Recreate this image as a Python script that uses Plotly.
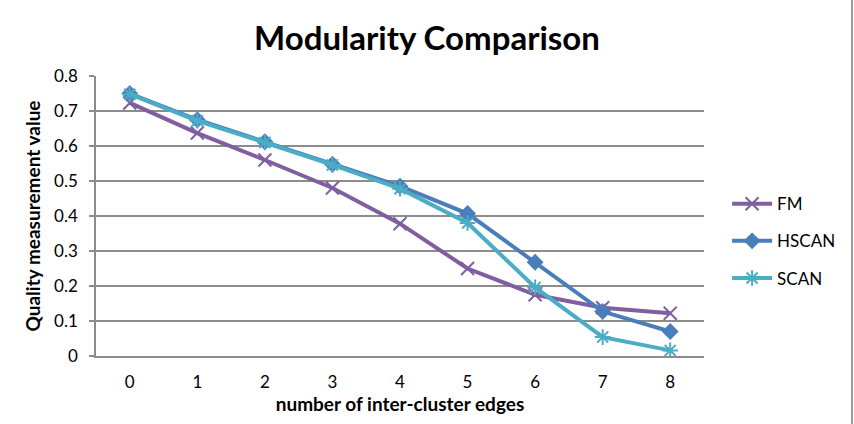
import plotly.graph_objects as go

categories = [0, 1, 2, 3, 4, 5, 6, 7, 8]
fm = [0.723, 0.637, 0.560, 0.480, 0.378, 0.250, 0.175, 0.138, 0.122]
hscan = [0.750, 0.675, 0.612, 0.548, 0.485, 0.407, 0.268, 0.127, 0.070]
scan = [0.748, 0.672, 0.610, 0.546, 0.478, 0.380, 0.196, 0.054, 0.016]
y_ticks = [0, 0.1, 0.2, 0.3, 0.4, 0.5, 0.6, 0.7, 0.8]
y_tick_labels = ["0", "0.1", "0.2", "0.3", "0.4", "0.5", "0.6", "0.7", "0.8"]

FONT = "Lato, Carlito, Calibri, sans-serif"

fig = go.Figure()
series = [
    ("FM", fm, "#7F5FA0", dict(symbol="x-thin", size=13, line=dict(width=2, color="#7F5FA0"))),
    ("HSCAN", hscan, "#4A7EBB", dict(symbol="diamond", size=13, color="#4A7EBB")),
    ("SCAN", scan, "#4BACC6", dict(symbol="asterisk", size=13, line=dict(width=2, color="#4BACC6"))),
]
for name, vals, color, marker in series:
    fig.add_trace(go.Scatter(
        x=categories, y=vals, name=name, mode="lines+markers",
        line=dict(color=color, width=4), marker=marker, legendgroup=name,
    ))

grid = "#8C8C8C"
fig.update_layout(
    width=854, height=424,
    margin=dict(l=96, r=150, t=76, b=68),
    paper_bgcolor="white", plot_bgcolor="white",
    font=dict(family=FONT, size=17, color="black"),
    title=dict(text="<b>Modularity Comparison</b>", x=0.5, xanchor="center",
               y=0.91, yanchor="middle", font=dict(size=33, family=FONT)),
    xaxis=dict(range=[-0.5, 8.5], tickvals=categories, ticks="", showgrid=False,
               showline=True, linecolor=grid, linewidth=1.5, zeroline=False,
               ticklabelstandoff=10,
               title=dict(text="<b>number of inter-cluster edges</b>", font=dict(size=19), standoff=6)),
    yaxis=dict(range=[0, 0.8], tickvals=y_ticks, ticktext=y_tick_labels,
               showgrid=True, gridcolor=grid, gridwidth=1.5,
               showline=True, linecolor=grid, linewidth=1.5, zeroline=False,
               ticks="outside", ticklen=5, tickcolor=grid, tickwidth=1.5,
               ticklabelstandoff=8,
               title=dict(text="<b>Quality measurement value</b>", font=dict(size=19), standoff=8)),
    legend=dict(x=1.038, xref="paper", y=0.41, yanchor="middle", xanchor="left",
                font=dict(size=17), tracegroupgap=12, itemwidth=40),
    showlegend=True,
)
fig.add_shape(type="line", xref="paper", yref="paper", x0=1.2434, x1=1.2434, y0=-0.243, y1=1.271,
              line=dict(color="#999999", width=2))
fig.write_html("out.html")
